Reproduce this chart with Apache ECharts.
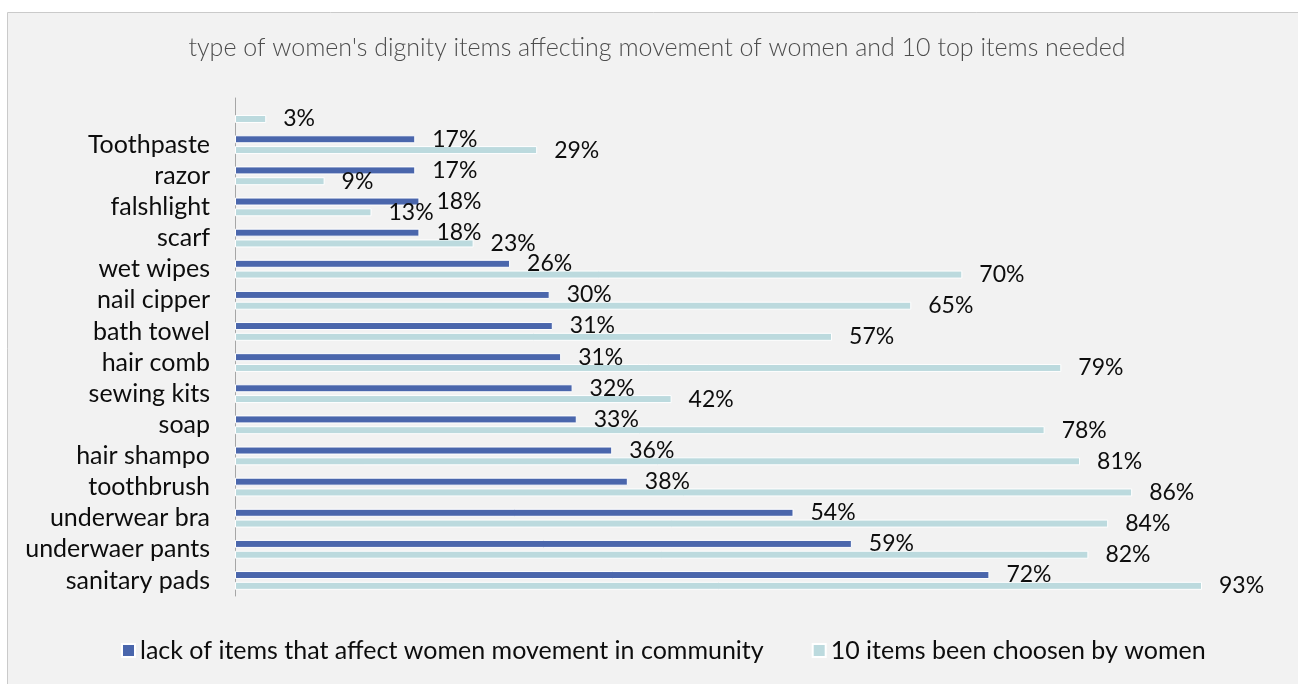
<!DOCTYPE html>
<html><head><meta charset="utf-8">
<script src="https://cdn.jsdelivr.net/npm/echarts@6/dist/echarts.min.js"></script>
<style>html,body{margin:0;padding:0;background:#fff}#c{width:1298px;height:684px}</style>
</head><body><div id="c"></div>
<script>
const categories = ['sanitary pads','underwaer pants','underwear bra','toothbrush','hair shampo','soap','sewing kits','hair comb','bath towel','nail cipper','wet wipes','scarf','falshlight','razor','Toothpaste',''];
const lackValues = [72.4,59.2,53.6,37.7,36.2,32.8,32.4,31.3,30.5,30.2,26.4,17.7,17.7,17.3,17.3,null];
const chosenValues = [92.8,81.9,83.8,86.1,81.1,77.7,41.9,79.3,57.3,64.9,69.8,22.9,13.1,8.6,29.0,3.0];
const seriesNames = ['lack of items that affect women movement in community','10 items been choosen by women'];
const titleText = "type of women's dignity items affecting movement of women and 10 top items needed";

const FONT = 'Lato';
const chart = echarts.init(document.getElementById('c'), null, {renderer: 'canvas'});
const labelCfg = {
  show: true, position: 'right', distance: 17,
  fontFamily: FONT, fontSize: 23, color: '#0d0d0d',
  formatter: p => (p.value == null ? '' : Math.round(p.value) + '%')
};
chart.setOption({
  backgroundColor: '#ffffff',
  animation: false,
  graphic: [{
    type: 'rect', z: -1, silent: true,
    shape: {x: 7.5, y: 12.5, width: 1400, height: 800},
    style: {fill: '#f2f2f2', stroke: '#cacaca', lineWidth: 1}
  }],
  title: {
    text: titleText, left: 657, top: 35, textAlign: 'center', padding: 0,
    textStyle: {fontFamily: FONT, fontSize: 25, fontWeight: 300, color: '#4d4d4d'}
  },
  legend: {
    left: 121, top: 638, padding: 0, itemWidth: 13, itemHeight: 13, itemGap: 48,
    icon: 'rect',
    textStyle: {fontFamily: FONT, fontSize: 25, color: '#0d0d0d'},
    data: seriesNames
  },
  grid: {left: 235, right: 21, top: 98, bottom: 88, containLabel: false},
  xAxis: {
    type: 'value', min: 0, max: 100,
    axisLabel: {show: false}, splitLine: {show: false},
    axisLine: {show: false}, axisTick: {show: false}
  },
  yAxis: {
    type: 'category', data: categories,
    axisLine: {show: true, lineStyle: {color: '#a6a6a6', width: 1}},
    axisTick: {show: false},
    axisLabel: {interval: 0, hideOverlap: false, margin: 25, fontFamily: FONT, fontSize: 25, color: '#0d0d0d'}
  },
  series: [
    {
      name: seriesNames[0], type: 'bar', data: lackValues, barWidth: 8, barGap: '35%',
      itemStyle: {color: '#4a66ac', borderColor: '#ffffff', borderWidth: 1},
      label: labelCfg
    },
    {
      name: seriesNames[1], type: 'bar', data: chosenValues, barWidth: 8, barGap: '35%',
      itemStyle: {color: '#bcdade', borderColor: '#ffffff', borderWidth: 1},
      label: labelCfg
    }
  ]
});
</script></body></html>
